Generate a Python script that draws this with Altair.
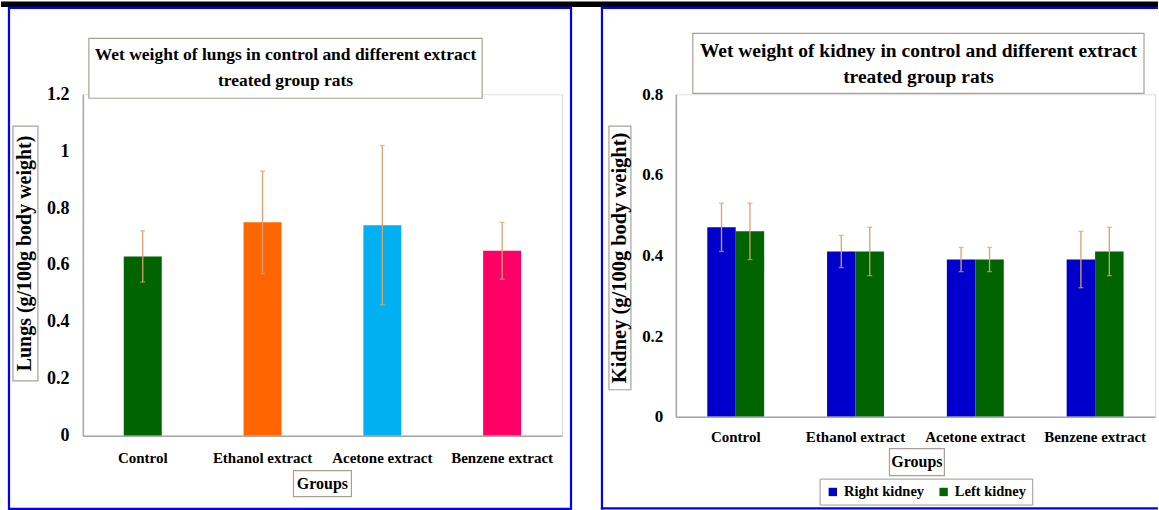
import altair as alt
import pandas as pd

# ---- data -------------------------------------------------------------
groups = ["Control", "Ethanol extract", "Acetone extract", "Benzene extract"]

lung_mean = [0.63, 0.75, 0.74, 0.65]
lung_sd = [0.09, 0.18, 0.28, 0.10]
lung_colors = ["#006400", "#FF6600", "#00B0F0", "#FF0066"]

sides = ["Right kidney", "Left kidney"]
side_colors = ["#0000CC", "#006400"]
right_kidney_mean = [0.47, 0.41, 0.39, 0.39]
right_kidney_sd = [0.06, 0.04, 0.03, 0.07]
left_kidney_mean = [0.46, 0.41, 0.39, 0.41]
left_kidney_sd = [0.07, 0.06, 0.03, 0.06]

lung_ticks = [0, 0.2, 0.4, 0.6, 0.8, 1, 1.2]
kidney_ticks = [0, 0.2, 0.4, 0.6, 0.8]

# ---- styling ----------------------------------------------------------
SERIF = "Liberation Serif"
ERR = "#D9A070"
FRAME = "#0000FF"
BOX = "#A9A095"
AXIS_GREY = "#A6A6A6"

one = pd.DataFrame({"k": [0]})


def box(x, x2, y, y2, stroke=BOX, width=1.2, fill_opacity=1):
    return alt.Chart(one).mark_rect(
        fill="white", fillOpacity=fill_opacity, stroke=stroke, strokeWidth=width
    ).encode(x=alt.value(x), x2=alt.value(x2), y=alt.value(y), y2=alt.value(y2))


def label(txt, x, y, size, angle=0, baseline="alphabetic"):
    return alt.Chart(one).mark_text(
        text=txt, font=SERIF, fontWeight="bold", fontSize=size, color="black",
        angle=angle, align="center", baseline=baseline,
    ).encode(x=alt.value(x), y=alt.value(y))


def hrule(x, x2, y):
    return alt.Chart(one).mark_rule(color=FRAME, strokeWidth=2.2, strokeCap="square").encode(
        x=alt.value(x), x2=alt.value(x2), y=alt.value(y))


def vrule(x, y, y2):
    return alt.Chart(one).mark_rule(color=FRAME, strokeWidth=2.2, strokeCap="square").encode(
        x=alt.value(x), y=alt.value(y), y2=alt.value(y2))


def x_axis(pad):
    return alt.Axis(title=None, labelAngle=0, labelFont=SERIF, labelFontWeight="bold",
                    labelFontSize=15, labelColor="black", labelPadding=pad,
                    ticks=False, tickSize=0, domainColor=AXIS_GREY, domainWidth=1.5,
                    grid=False, zindex=1)


def y_axis(values, size, pad):
    return alt.Axis(title=None, values=values, format="~g", labelFont=SERIF,
                    labelFontWeight="bold", labelFontSize=size, labelColor="black",
                    labelPadding=pad, ticks=False, tickSize=0, domainColor=AXIS_GREY,
                    domainWidth=1.5, grid=False, zindex=1)


# ---- lungs panel --------------------------------------------------------
lung_df = pd.DataFrame({"group": groups, "mean": lung_mean, "sd": lung_sd})
lung_df["lo"] = lung_df["mean"] - lung_df["sd"]
lung_df["hi"] = lung_df["mean"] + lung_df["sd"]

lx_scale = alt.Scale(paddingInner=0.683, paddingOuter=0.3415)
ly_scale = alt.Scale(domain=[0, 1.2], nice=False, zero=True)
lx_axis = x_axis(15)
ly_axis = y_axis(lung_ticks, 18, 14)

lx = alt.X("group:N", sort=groups, scale=lx_scale, axis=lx_axis)

lung_bars = alt.Chart(lung_df).mark_bar().encode(
    x=lx,
    y=alt.Y("mean:Q", scale=ly_scale, axis=ly_axis),
    color=alt.Color("group:N", sort=groups,
                    scale=alt.Scale(domain=groups, range=lung_colors), legend=None),
)
lung_err = alt.Chart(lung_df).mark_rule(color=ERR, strokeWidth=1.3).encode(
    x=lx, y=alt.Y("lo:Q", scale=ly_scale, axis=ly_axis), y2="hi:Q")
lung_cap_hi = alt.Chart(lung_df).mark_tick(color=ERR, thickness=1.3, size=5).encode(
    x=lx, y=alt.Y("hi:Q", scale=ly_scale, axis=ly_axis))
lung_cap_lo = alt.Chart(lung_df).mark_tick(color=ERR, thickness=1.3, size=5).encode(
    x=lx, y=alt.Y("lo:Q", scale=ly_scale, axis=ly_axis))

top_band = alt.Chart(one).mark_rect(color="black").encode(
    x=alt.value(-82), x2=alt.value(1077), y=alt.value(-93), y2=alt.value(-87.5))

lungs = alt.layer(
    top_band,
    box(-74, 489, -86.5, 415.3, stroke=FRAME, width=2.2, fill_opacity=0),
    box(6, 400, -56, 4),
    label("Wet weight of lungs in control and different extract", 203, -34, 17.5),
    label("treated group rats", 203, -8, 17.5),
    box(-70, -45, 32, 287),
    label("Lungs  (g/100g body weight)", -57.5, 159.5, 20, angle=270, baseline="middle"),
    box(211, 269, 377, 403),
    label("Groups", 240, 390, 16, baseline="middle"),
    lung_bars, lung_err, lung_cap_hi, lung_cap_lo,
).properties(width=480, height=342)

# ---- kidney panel -------------------------------------------------------
kid_df = pd.DataFrame({
    "group": groups * 2,
    "side": [sides[0]] * len(groups) + [sides[1]] * len(groups),
    "mean": right_kidney_mean + left_kidney_mean,
    "sd": right_kidney_sd + left_kidney_sd,
})
kid_df["lo"] = kid_df["mean"] - kid_df["sd"]
kid_df["hi"] = kid_df["mean"] + kid_df["sd"]

kx_scale = alt.Scale(paddingInner=0.525, paddingOuter=0.2625)
ky_scale = alt.Scale(domain=[0, 0.8], nice=False, zero=True)
kx_axis = x_axis(13)
ky_axis = y_axis(kidney_ticks, 17, 13)

kx = alt.X("group:N", sort=groups, scale=kx_scale, axis=kx_axis)
koff = alt.XOffset("side:N", sort=sides, scale=alt.Scale(paddingInner=0, paddingOuter=0))

kid_bars = alt.Chart(kid_df).mark_bar().encode(
    x=kx, xOffset=koff,
    y=alt.Y("mean:Q", scale=ky_scale, axis=ky_axis),
    color=alt.Color(
        "side:N", sort=sides, scale=alt.Scale(domain=sides, range=side_colors),
        legend=alt.Legend(
            title=None, orient="none", legendX=144, legendY=385, direction="horizontal",
            symbolType="square", symbolSize=70, symbolStrokeWidth=0,
            labelFont=SERIF, labelFontWeight="bold", labelFontSize=14.5, labelColor="black",
            strokeColor="#999999", fillColor="white", padding=6, columnPadding=12,
            labelOffset=4,
        ),
    ),
)
kid_err = alt.Chart(kid_df).mark_rule(color=ERR, strokeWidth=1.3).encode(
    x=kx, xOffset=koff, y=alt.Y("lo:Q", scale=ky_scale, axis=ky_axis), y2="hi:Q")
kid_cap_hi = alt.Chart(kid_df).mark_tick(color=ERR, thickness=1.3, size=5).encode(
    x=kx, xOffset=koff, y=alt.Y("hi:Q", scale=ky_scale, axis=ky_axis))
kid_cap_lo = alt.Chart(kid_df).mark_tick(color=ERR, thickness=1.3, size=5).encode(
    x=kx, xOffset=koff, y=alt.Y("lo:Q", scale=ky_scale, axis=ky_axis))

kidney = alt.layer(
    hrule(-74, 481.8, -86.5),
    vrule(-74, -86.5, 414.8),
    hrule(-74, 481.8, 414.8),
    box(17, 469, -61, -1),
    label("Wet weight of kidney in control and different extract", 243, -37, 19.5),
    label("treated group rats", 243, -11, 19.5),
    box(-67, -45, 32, 296),
    label("Kidney  (g/100g body weight)", -56, 164, 20.5, angle=270, baseline="middle"),
    box(214, 269, 355, 382),
    label("Groups", 241.5, 368.5, 16, baseline="middle"),
    kid_bars, kid_err, kid_cap_hi, kid_cap_lo,
).properties(width=480, height=323)

chart = (
    alt.hconcat(lungs, kidney, spacing=114, bounds="flush")
    .resolve_scale(color="independent")
    .properties(padding=0)
    .configure_view(stroke=None)
    .configure(background="white")
)

chart.save("out.html", embed_options={"renderer": "svg", "actions": False})
